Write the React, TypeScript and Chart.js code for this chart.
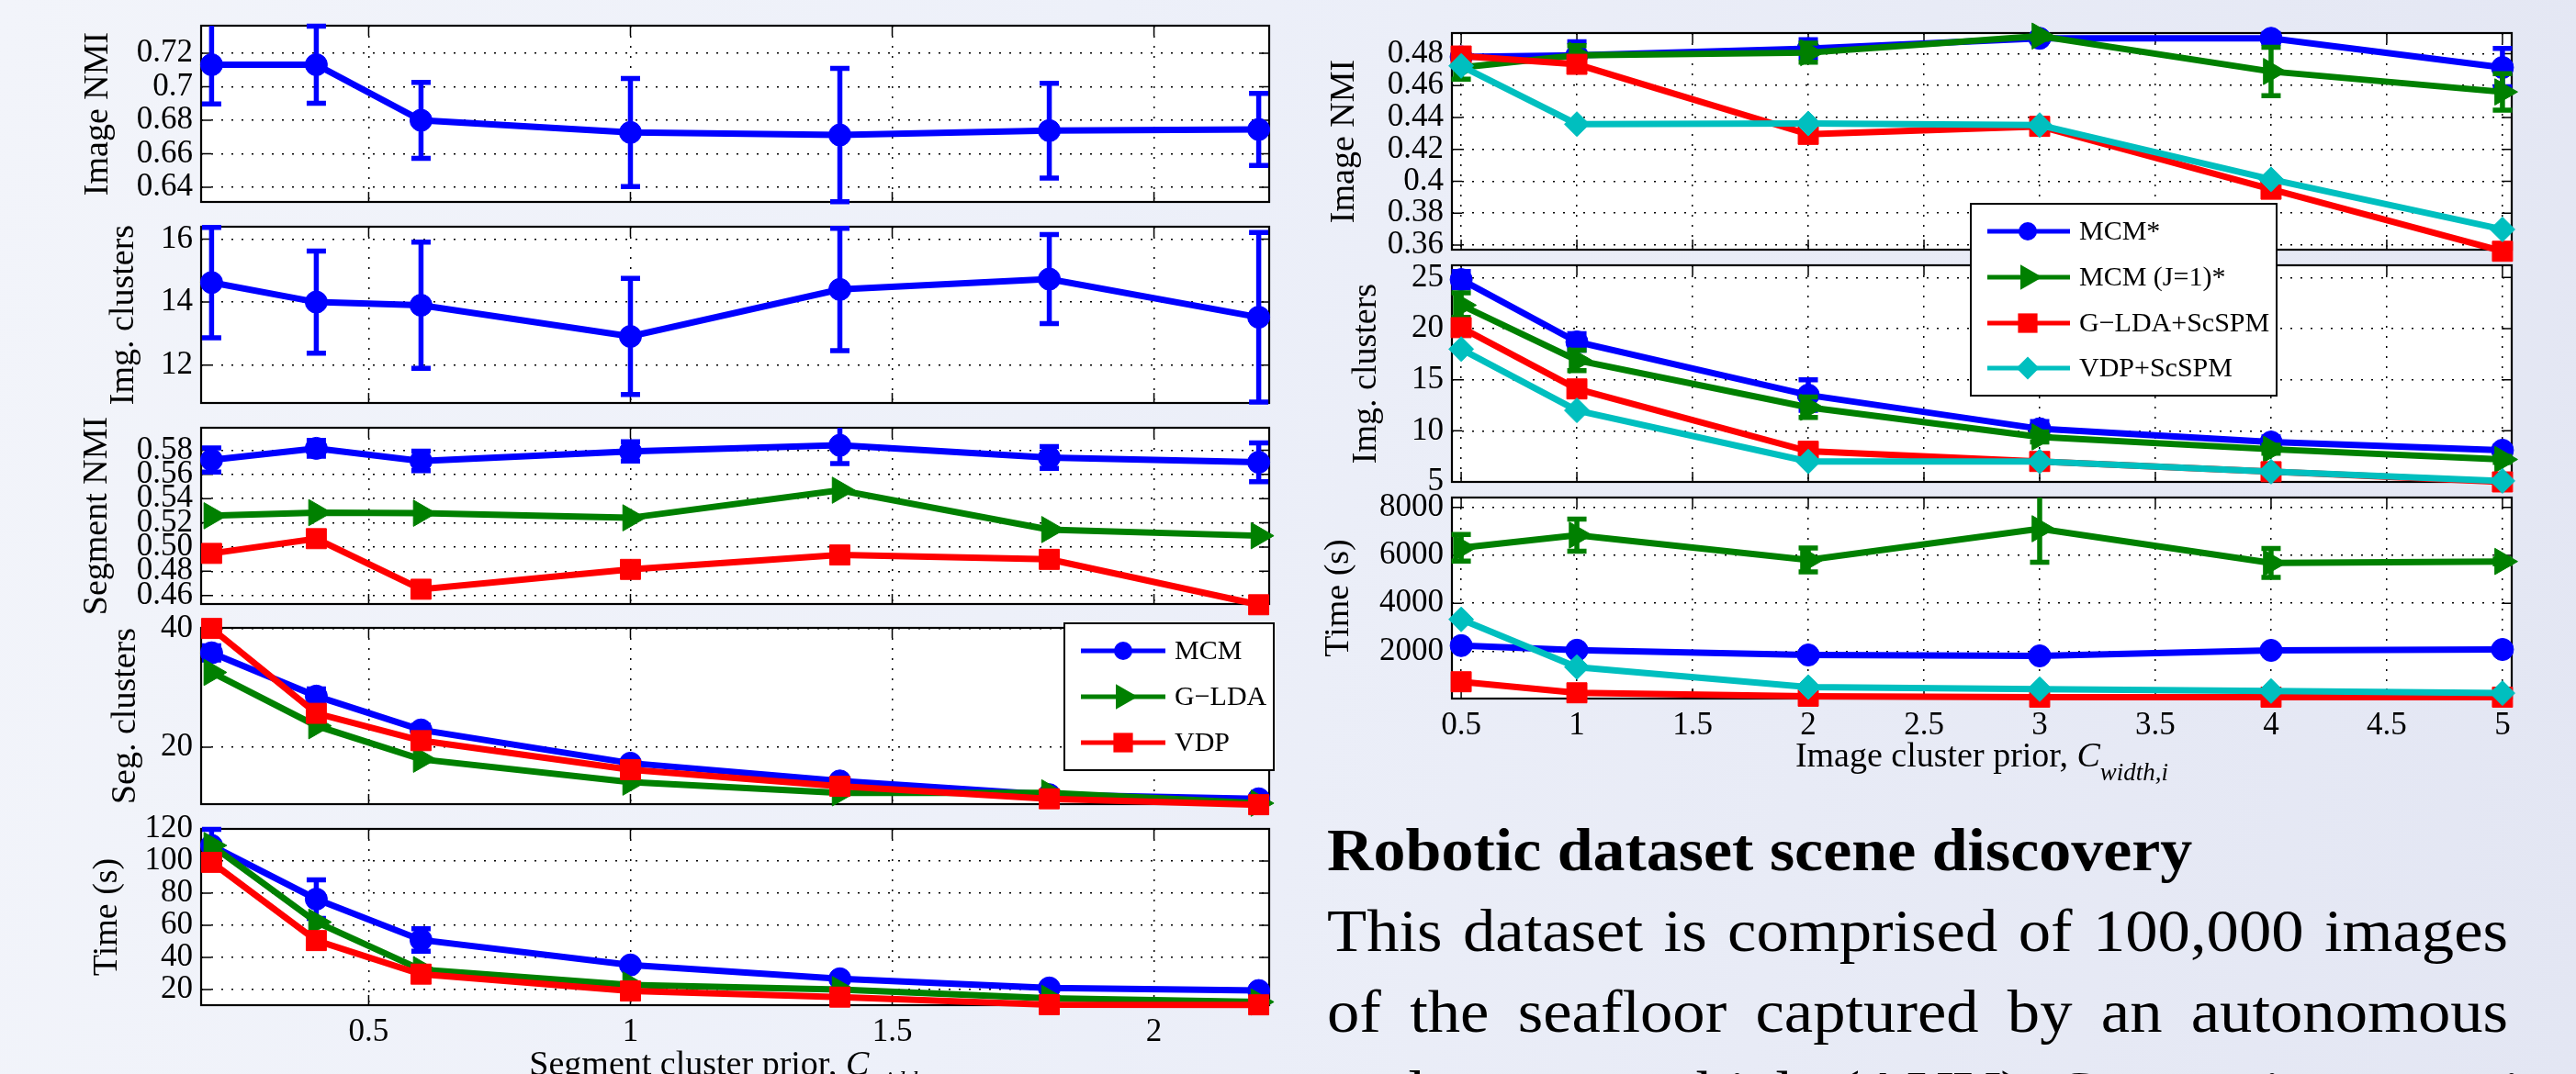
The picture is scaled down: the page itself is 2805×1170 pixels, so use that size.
import React, { useEffect, useRef } from 'react';
import { Chart, registerables } from 'chart.js';

Chart.register(...registerables);

const FONT = "'Liberation Serif', 'Times New Roman', Times, serif";
Chart.defaults.font.family = FONT;

const BLUE = '#0000ff';
const GREEN = '#008000';
const RED = '#ff0000';
const CYAN = '#00bfbf';

// ---------------- Left panel data (x = segment cluster prior) ----------------
const segPrior = [0.2, 0.4, 0.6, 1.0, 1.4, 1.8, 2.2];
const segXTicks = [0.5, 1, 1.5, 2];
const segXTickLabels = ['0.5', '1', '1.5', '2'];

const segImgNmiMCM = [0.7132, 0.7132, 0.68, 0.6727, 0.6712, 0.6738, 0.6745];
const segImgNmiMCMErr = [0.0235, 0.023, 0.0227, 0.0323, 0.0398, 0.0283, 0.0215];
const segImgNmiTicks = [0.64, 0.66, 0.68, 0.7, 0.72];
const segImgNmiTickLabels = ['0.64', '0.66', '0.68', '0.7', '0.72'];

const segImgClustMCM = [14.62, 14.0, 13.9, 12.91, 14.4, 14.73, 13.52];
const segImgClustMCMErr = [1.75, 1.62, 2.0, 1.84, 1.94, 1.41, 2.69];
const segImgClustTicks = [12, 14, 16];
const segImgClustTickLabels = ['12', '14', '16'];

const segNmiMCM = [0.5719, 0.5815, 0.5711, 0.579, 0.584, 0.5739, 0.570];
const segNmiMCMErr = [0.01, 0.0066, 0.008, 0.008, 0.015, 0.009, 0.016];
const segNmiGLDA = [0.5258, 0.5284, 0.5279, 0.5241, 0.5469, 0.5144, 0.5093];
const segNmiVDP = [0.4947, 0.5069, 0.4651, 0.4815, 0.4934, 0.4898, 0.4523];
const segNmiTicks = [0.46, 0.48, 0.5, 0.52, 0.54, 0.56, 0.58];
const segNmiTickLabels = ['0.46', '0.48', '0.50', '0.52', '0.54', '0.56', '0.58'];

const segClustMCM = [35.9, 28.6, 22.9, 17.3, 14.3, 12.0, 11.3];
const segClustMCMErr = [1.2, 1.2, 0.8, 0.5, 0.5, 0.3, 0.3];
const segClustGLDA = [32.6, 23.6, 17.96, 14.1, 12.3, 12.3, 10.55];
const segClustVDP = [40.0, 25.7, 21.1, 16.2, 13.4, 11.3, 10.3];
const segClustTicks = [20, 40];
const segClustTickLabels = ['20', '40'];

const segTimeMCM = [109.7, 76.3, 50.9, 35.3, 26.7, 21.0, 19.4];
const segTimeMCMErr = [10, 12, 7, 2, 2, 1, 1];
const segTimeGLDA = [109.7, 62, 32.4, 22.9, 20, 14.6, 12.3];
const segTimeVDP = [99.2, 50.5, 29.6, 19.1, 15.3, 10.6, 10.5];
const segTimeTicks = [20, 40, 60, 80, 100, 120];
const segTimeTickLabels = ['20', '40', '60', '80', '100', '120'];

// ---------------- Right panel data (x = image cluster prior) ----------------
const imgPrior = [0.5, 1, 2, 3, 4, 5];
const imgXTicks = [0.5, 1, 1.5, 2, 2.5, 3, 3.5, 4, 4.5, 5];
const imgXTickLabels = ['0.5', '1', '1.5', '2', '2.5', '3', '3.5', '4', '4.5', '5'];

const imgNmiMCM = [0.478, 0.479, 0.4831, 0.4896, 0.4896, 0.4713];
const imgNmiMCMErr = [0.003, 0.0085, 0.0056, 0.002, 0.003, 0.012];
const imgNmiMCMJ1 = [0.4713, 0.479, 0.4806, 0.491, 0.4688, 0.456];
const imgNmiMCMJ1Err = [0.0073, 0.006, 0.006, 0.002, 0.0152, 0.0115];
const imgNmiGLDA = [0.4785, 0.4733, 0.4294, 0.4344, 0.395, 0.3561];
const imgNmiVDP = [0.4723, 0.4358, 0.4362, 0.4352, 0.4012, 0.3698];
const imgNmiTicks = [0.36, 0.38, 0.4, 0.42, 0.44, 0.46, 0.48];
const imgNmiTickLabels = ['0.36', '0.38', '0.4', '0.42', '0.44', '0.46', '0.48'];

const imgClustMCM = [24.8, 18.7, 13.5, 10.2, 8.9, 8.1];
const imgClustMCMErr = [0.8, 0.8, 1.5, 0.7, 0.5, 0.4];
const imgClustMCMJ1 = [22.3, 16.9, 12.3, 9.4, 8.2, 7.2];
const imgClustMCMJ1Err = [1.2, 1.0, 1.0, 0.5, 0.4, 0.3];
const imgClustGLDA = [20.1, 14.1, 8.0, 7.0, 6.0, 5.0];
const imgClustVDP = [18.0, 12.0, 7.0, 7.0, 6.0, 5.1];
const imgClustTicks = [5, 10, 15, 20, 25];
const imgClustTickLabels = ['5', '10', '15', '20', '25'];

const imgTimeMCM = [2237, 2045, 1847, 1809, 2038, 2076];
const imgTimeMCMJ1 = [6318, 6843, 5809, 7108, 5682, 5745];
const imgTimeMCMJ1Err = [555, 670, 500, 1400, 600, 100];
const imgTimeGLDA = [730, 270, 127, 89, 89, 89];
const imgTimeVDP = [3330, 1342, 510, 420, 344, 255];
const imgTimeTicks = [2000, 4000, 6000, 8000];
const imgTimeTickLabels = ['2000', '4000', '6000', '8000'];

// ---------------- helpers ----------------
type Series = { label: string; color: string; marker: string; values: number[]; errors?: number[] };
type Rect = { l: number; t: number; w: number; h: number };
type Legend = Rect & { x1: number; x2: number; mx: number; tx: number; rows: number[] };
type PlotCfg = {
  x: number[]; xMin: number; xMax: number; xTicks: number[]; xTickLabels: string[]; showX: boolean;
  yMin: number; yMax: number; yTicks: number[]; yTickLabels: string[];
  yTitle: string; yTitleCenter: number;
  series: Series[]; box: Rect; canvas: Rect; legend?: Legend; z?: number;
};

const MARKER_R: Record<string, number> = { circle: 12, rect: 15.5, triangle: 16.5, rectRot: 13.5 };
const LEGEND_R: Record<string, number> = { circle: 10, rect: 15, triangle: 16, rectRot: 12.5 };
const TICK_FONT = { family: FONT, size: 35 };

function drawMarker(ctx: CanvasRenderingContext2D, style: string, x: number, y: number, r: number, color: string) {
  ctx.save();
  ctx.fillStyle = color;
  ctx.beginPath();
  if (style === 'circle') {
    ctx.arc(x, y, r, 0, Math.PI * 2);
  } else if (style === 'rect') {
    const h = r * Math.SQRT1_2;
    ctx.rect(x - h, y - h, 2 * h, 2 * h);
  } else if (style === 'triangle') {
    ctx.moveTo(x + r, y);
    ctx.lineTo(x - r / 2, y - r * 0.866);
    ctx.lineTo(x - r / 2, y + r * 0.866);
    ctx.closePath();
  } else {
    ctx.moveTo(x, y - r);
    ctx.lineTo(x + r, y);
    ctx.lineTo(x, y + r);
    ctx.lineTo(x - r, y);
    ctx.closePath();
  }
  ctx.fill();
  ctx.restore();
}

const LX = 0; // left canvases start at page x=0
const RX = 1420; // right canvases start here

const leftBox = (t: number): Rect => ({ l: 219, t, w: 1163, h: 192 });
const leftCanvas = (t: number, mb = 30): Rect => ({ l: LX, t: t - 30, w: 219 + 1163 + 40, h: 30 + 192 + mb });

const mcmL = (values: number[], errors?: number[]): Series => ({ label: 'MCM', color: BLUE, marker: 'circle', values, errors });
const gldaL = (values: number[]): Series => ({ label: 'G\u2212LDA', color: GREEN, marker: 'triangle', values });
const vdpL = (values: number[]): Series => ({ label: 'VDP', color: RED, marker: 'rect', values });

const segBase = { x: segPrior, xMin: 0.18, xMax: 2.22, xTicks: segXTicks, xTickLabels: segXTickLabels, showX: false };
const imgBase = { x: imgPrior, xMin: 0.46, xMax: 5.04, xTicks: imgXTicks, xTickLabels: imgXTickLabels, showX: false };

const PLOTS: PlotCfg[] = [
  {
    ...segBase, yMin: 0.6312, yMax: 0.7365, yTicks: segImgNmiTicks, yTickLabels: segImgNmiTickLabels,
    yTitle: 'Image NMI', yTitleCenter: 107, series: [mcmL(segImgNmiMCM, segImgNmiMCMErr)],
    box: leftBox(28), canvas: leftCanvas(28),
  },
  {
    ...segBase, yMin: 10.8, yMax: 16.39, yTicks: segImgClustTicks, yTickLabels: segImgClustTickLabels,
    yTitle: 'Img. clusters', yTitleCenter: 135, series: [mcmL(segImgClustMCM, segImgClustMCMErr)],
    box: leftBox(247), canvas: leftCanvas(247),
  },
  {
    ...segBase, yMin: 0.4529, yMax: 0.5985, yTicks: segNmiTicks, yTickLabels: segNmiTickLabels,
    yTitle: 'Segment NMI', yTitleCenter: 106,
    series: [mcmL(segNmiMCM, segNmiMCMErr), gldaL(segNmiGLDA), vdpL(segNmiVDP)],
    box: leftBox(466), canvas: leftCanvas(466),
  },
  {
    ...segBase, yMin: 10.4, yMax: 40.1, yTicks: segClustTicks, yTickLabels: segClustTickLabels,
    yTitle: 'Seg. clusters', yTitleCenter: 137,
    series: [mcmL(segClustMCM, segClustMCMErr), gldaL(segClustGLDA), vdpL(segClustVDP)],
    box: leftBox(684), canvas: leftCanvas(684), z: 3,
    legend: { l: 1159, t: 679, w: 228, h: 160, x1: 1177, x2: 1269, mx: 1223, tx: 1279, rows: [709, 759, 809] },
  },
  {
    ...segBase, showX: true, yMin: 10.3, yMax: 120, yTicks: segTimeTicks, yTickLabels: segTimeTickLabels,
    yTitle: 'Time (s)', yTitleCenter: 117,
    series: [mcmL(segTimeMCM, segTimeMCMErr), gldaL(segTimeGLDA), vdpL(segTimeVDP)],
    box: leftBox(903), canvas: leftCanvas(903, 70),
  },
  {
    ...imgBase, yMin: 0.3571, yMax: 0.4929, yTicks: imgNmiTicks, yTickLabels: imgNmiTickLabels,
    yTitle: 'Image NMI', yTitleCenter: 1464,
    series: [
      { label: 'MCM*', color: BLUE, marker: 'circle', values: imgNmiMCM, errors: imgNmiMCMErr },
      { label: 'MCM (J=1)*', color: GREEN, marker: 'triangle', values: imgNmiMCMJ1, errors: imgNmiMCMJ1Err },
      { label: 'G\u2212LDA+ScSPM', color: RED, marker: 'rect', values: imgNmiGLDA },
      { label: 'VDP+ScSPM', color: CYAN, marker: 'rectRot', values: imgNmiVDP },
    ],
    box: { l: 1581, t: 36, w: 1154, h: 236 }, canvas: { l: RX, t: 6, w: 161 + 1154 + 40, h: 30 + 236 + 175 }, z: 3,
    legend: { l: 2146, t: 222, w: 333, h: 209, x1: 2164, x2: 2254, mx: 2208, tx: 2264, rows: [252, 302, 352, 401] },
  },
  {
    ...imgBase, yMin: 5, yMax: 26.2, yTicks: imgClustTicks, yTickLabels: imgClustTickLabels,
    yTitle: 'Img. clusters', yTitleCenter: 1488,
    series: [
      { label: 'MCM*', color: BLUE, marker: 'circle', values: imgClustMCM, errors: imgClustMCMErr },
      { label: 'MCM (J=1)*', color: GREEN, marker: 'triangle', values: imgClustMCMJ1, errors: imgClustMCMJ1Err },
      { label: 'G\u2212LDA+ScSPM', color: RED, marker: 'rect', values: imgClustGLDA },
      { label: 'VDP+ScSPM', color: CYAN, marker: 'rectRot', values: imgClustVDP },
    ],
    box: { l: 1581, t: 289, w: 1154, h: 236 }, canvas: { l: RX, t: 259, w: 161 + 1154 + 40, h: 30 + 236 + 30 },
  },
  {
    ...imgBase, showX: true, yMin: 30, yMax: 8410, yTicks: imgTimeTicks, yTickLabels: imgTimeTickLabels,
    yTitle: 'Time (s)', yTitleCenter: 1458,
    series: [
      { label: 'MCM*', color: BLUE, marker: 'circle', values: imgTimeMCM },
      { label: 'MCM (J=1)*', color: GREEN, marker: 'triangle', values: imgTimeMCMJ1, errors: imgTimeMCMJ1Err },
      { label: 'G\u2212LDA+ScSPM', color: RED, marker: 'rect', values: imgTimeGLDA },
      { label: 'VDP+ScSPM', color: CYAN, marker: 'rectRot', values: imgTimeVDP },
    ],
    box: { l: 1581, t: 542, w: 1154, h: 219 }, canvas: { l: RX, t: 512, w: 161 + 1154 + 40, h: 30 + 219 + 70 },
  },
];

function buildConfig(cfg: PlotCfg): any {
  const ML = cfg.box.l - cfg.canvas.l;
  const MT = cfg.box.t - cfg.canvas.t;
  const MR = cfg.canvas.l + cfg.canvas.w - (cfg.box.l + cfg.box.w);
  const MB = cfg.canvas.t + cfg.canvas.h - (cfg.box.t + cfg.box.h);
  const n = cfg.series.length;
  const titleSize = 38;
  const titlePad = cfg.yTitleCenter - cfg.canvas.l - titleSize * 0.6;

  const datasets = cfg.series.map((s, i) => ({
    label: s.label,
    data: cfg.x.map((xv, j) => ({ x: xv, y: s.values[j] })),
    borderColor: s.color,
    backgroundColor: s.color,
    borderWidth: 7,
    pointStyle: s.marker,
    pointRotation: s.marker === 'triangle' ? 90 : 0,
    pointRadius: MARKER_R[s.marker],
    pointBorderWidth: 1,
    pointBorderColor: s.color,
    pointBackgroundColor: s.color,
    tension: 0,
    fill: false,
    clip: false,
    order: n - i,
  }));

  const bgPlugin = {
    id: 'plotBg',
    beforeDraw(chart: any) {
      const { ctx, chartArea: a } = chart;
      ctx.save();
      ctx.fillStyle = '#ffffff';
      ctx.fillRect(a.left, a.top, a.right - a.left, a.bottom - a.top);
      ctx.restore();
    },
  };

  const boxPlugin = {
    id: 'plotBox',
    beforeDatasetsDraw(chart: any) {
      const { ctx, chartArea: a } = chart;
      const xs = chart.scales.x;
      const ys = chart.scales.y;
      const L = 11;
      ctx.save();
      ctx.strokeStyle = '#000';
      ctx.lineWidth = 1.5;
      ctx.beginPath();
      xs.ticks.forEach((t: any) => {
        const px = xs.getPixelForValue(t.value);
        ctx.moveTo(px, a.bottom); ctx.lineTo(px, a.bottom - L);
        ctx.moveTo(px, a.top); ctx.lineTo(px, a.top + L);
      });
      ys.ticks.forEach((t: any) => {
        const py = ys.getPixelForValue(t.value);
        ctx.moveTo(a.left, py); ctx.lineTo(a.left + L, py);
        ctx.moveTo(a.right, py); ctx.lineTo(a.right - L, py);
      });
      ctx.stroke();
      ctx.lineWidth = 2.2;
      ctx.strokeRect(a.left, a.top, a.right - a.left, a.bottom - a.top);
      ctx.restore();
    },
  };

  const errPlugin = {
    id: 'errBars',
    afterDatasetDraw(chart: any, args: any) {
      const s = cfg.series[args.index];
      if (!s || !s.errors) return;
      const { ctx, chartArea: a } = chart;
      const xs = chart.scales.x;
      const ys = chart.scales.y;
      ctx.save();
      ctx.strokeStyle = s.color;
      ctx.lineWidth = 5.5;
      ctx.lineCap = 'butt';
      ctx.beginPath();
      s.errors.forEach((e, j) => {
        if (!e) return;
        const px = xs.getPixelForValue(cfg.x[j]);
        const top = ys.getPixelForValue(s.values[j] + e);
        const bot = ys.getPixelForValue(s.values[j] - e);
        const t = Math.max(top, a.top);
        const b = Math.min(bot, a.bottom);
        ctx.moveTo(px, t); ctx.lineTo(px, b);
        const hw = 10.5;
        if (top >= a.top) { ctx.moveTo(px - hw, top); ctx.lineTo(px + hw, top); }
        if (bot <= a.bottom + 1) { ctx.moveTo(px - hw, bot); ctx.lineTo(px + hw, bot); }
      });
      ctx.stroke();
      ctx.restore();
    },
  };

  const legendPlugin = {
    id: 'matLegend',
    afterDraw(chart: any) {
      const lg = cfg.legend;
      if (!lg) return;
      const { ctx } = chart;
      const ox = cfg.canvas.l;
      const oy = cfg.canvas.t;
      ctx.save();
      ctx.fillStyle = '#ffffff';
      ctx.fillRect(lg.l - ox, lg.t - oy, lg.w, lg.h);
      ctx.strokeStyle = '#000';
      ctx.lineWidth = 2;
      ctx.strokeRect(lg.l - ox, lg.t - oy, lg.w, lg.h);
      cfg.series.forEach((s, i) => {
        const ry = lg.rows[i] - oy;
        ctx.strokeStyle = s.color;
        ctx.lineWidth = 5;
        ctx.beginPath();
        ctx.moveTo(lg.x1 - ox, ry);
        ctx.lineTo(lg.x2 - ox, ry);
        ctx.stroke();
        drawMarker(ctx, s.marker, lg.mx - ox, ry, LEGEND_R[s.marker], s.color);
        ctx.fillStyle = '#000';
        ctx.font = `30px ${FONT}`;
        ctx.textBaseline = 'middle';
        ctx.textAlign = 'left';
        ctx.fillText(s.label, lg.tx - ox, ry + 1);
      });
      ctx.restore();
    },
  };

  return {
    type: 'line',
    data: { datasets },
    options: {
      responsive: false,
      maintainAspectRatio: false,
      animation: false,
      devicePixelRatio: 1,
      events: [],
      layout: { padding: { top: MT, right: MR, left: 0, bottom: 0 } },
      plugins: { legend: { display: false }, tooltip: { enabled: false }, title: { display: false } },
      scales: {
        x: {
          type: 'linear',
          position: 'bottom',
          min: cfg.xMin,
          max: cfg.xMax,
          bounds: 'data',
          afterBuildTicks: (s: any) => { s.ticks = cfg.xTicks.map((v) => ({ value: v })); },
          afterFit: (s: any) => { s.height = MB; },
          ticks: {
            display: cfg.showX,
            autoSkip: false,
            maxRotation: 0,
            minRotation: 0,
            padding: 9,
            color: '#000',
            font: TICK_FONT,
            callback: (_v: any, i: number) => cfg.xTickLabels[i],
          },
          grid: { color: '#000', lineWidth: 1.5, drawTicks: false },
          border: { display: false, dash: [2, 9] },
        },
        y: {
          type: 'linear',
          min: cfg.yMin,
          max: cfg.yMax,
          bounds: 'data',
          afterBuildTicks: (s: any) => { s.ticks = cfg.yTicks.map((v) => ({ value: v })); },
          afterFit: (s: any) => { s.width = ML; },
          ticks: {
            autoSkip: false,
            padding: 9,
            color: '#000',
            font: TICK_FONT,
            callback: (_v: any, i: number) => cfg.yTickLabels[i],
          },
          grid: { color: '#000', lineWidth: 1.5, drawTicks: false },
          border: { display: false, dash: [2, 9] },
          title: {
            display: true,
            text: cfg.yTitle,
            color: '#000',
            font: { family: FONT, size: titleSize },
            padding: { top: titlePad, bottom: 0 },
          },
        },
      },
    },
    plugins: [bgPlugin, boxPlugin, errPlugin, legendPlugin],
  };
}

function Plot({ cfg }: { cfg: PlotCfg }) {
  const ref = useRef<HTMLCanvasElement>(null);
  useEffect(() => {
    const canvas = ref.current;
    if (!canvas) return;
    const chart = new Chart(canvas, buildConfig(cfg));
    return () => chart.destroy();
  }, [cfg]);
  const c = cfg.canvas;
  return (
    <canvas
      ref={ref}
      width={c.w}
      height={c.h}
      style={{ position: 'absolute', left: c.l, top: c.t, width: c.w, height: c.h, zIndex: cfg.z ?? 1 }}
    />
  );
}

const paragraphLines = [
  'This dataset is comprised of 100,000 images',
  'of the seafloor captured by an autonomous',
  'underwater vehicle (AUV). Comparisons against',
];

export default function App() {
  useEffect(() => {
    document.body.style.margin = '0';
  }, []);

  const serif: React.CSSProperties = { fontFamily: FONT, color: '#000', whiteSpace: 'nowrap', position: 'absolute' };

  return (
    <div
      style={{
        position: 'absolute',
        left: 0,
        top: 0,
        width: 2805,
        height: 1170,
        overflow: 'hidden',
        background: 'linear-gradient(100deg, #f2f4fa 0%, #edf0f9 40%, #e8ebf6 70%, #e3e6f3 100%)',
      }}
    >
      {PLOTS.map((p, i) => (
        <Plot key={i} cfg={p} />
      ))}

      {/* left x-axis title */}
      <div style={{ ...serif, left: 100, width: 1400, top: 1171 - 32, fontSize: 38, lineHeight: '38px', textAlign: 'center', zIndex: 5 }}>
        Segment cluster prior, <i>C</i>
        <span style={{ fontSize: 27, fontStyle: 'italic', position: 'relative', top: 15 }}>width,s</span>
      </div>

      {/* right x-axis title */}
      <div style={{ ...serif, left: 2158 - 700, width: 1400, top: 835 - 32, fontSize: 38, lineHeight: '38px', textAlign: 'center', zIndex: 5 }}>
        Image cluster prior, <i>C</i>
        <span style={{ fontSize: 27, fontStyle: 'italic', position: 'relative', top: 15 }}>width,i</span>
      </div>

      {/* heading */}
      <div
        style={{
          ...serif,
          left: 1445,
          top: 948 - 55,
          fontSize: 66,
          lineHeight: '66px',
          fontWeight: 'bold',
          transform: 'scaleX(1.06)',
          transformOrigin: 'left top',
        }}
      >
        Robotic dataset scene discovery
      </div>

      {/* paragraph */}
      {paragraphLines.map((line, i) => (
        <div
          key={i}
          style={{
            position: 'absolute',
            fontFamily: FONT,
            color: '#000',
            left: 1445,
            top: 1036 + i * 88 - 55,
            width: 1286 / 1.07,
            fontSize: 66,
            lineHeight: '66px',
            textAlign: 'justify',
            textAlignLast: 'justify',
            whiteSpace: 'nowrap',
            transform: 'scaleX(1.07)',
            transformOrigin: 'left top',
          }}
        >
          {line}
        </div>
      ))}
    </div>
  );
}
